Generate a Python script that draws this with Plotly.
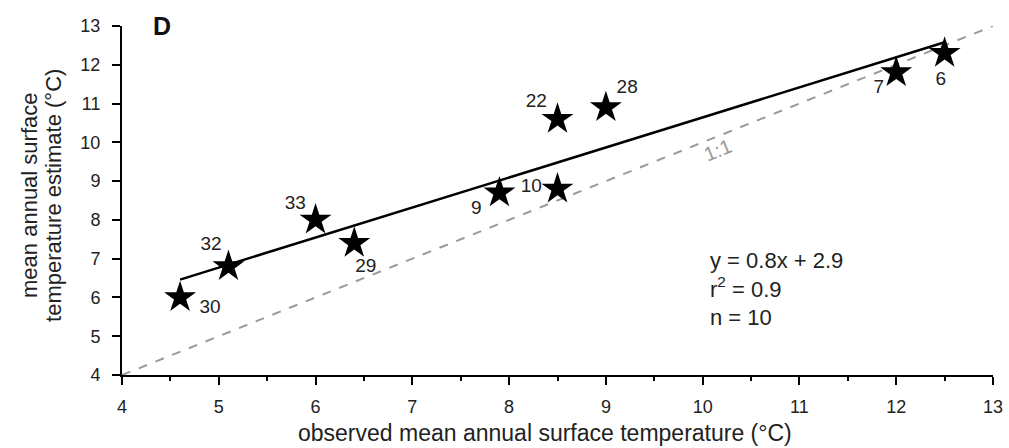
import plotly.graph_objects as go

# data
site_ids = ["30", "32", "33", "29", "9", "10", "22", "28", "7", "6"]
observed = [4.6, 5.1, 6.0, 6.4, 7.9, 8.5, 8.5, 9.0, 12.0, 12.5]
estimate = [6.0, 6.8, 8.0, 7.4, 8.7, 8.8, 10.6, 10.9, 11.8, 12.3]
# label anchor positions (data units)
label_x = [4.91, 4.92, 5.79, 6.52, 7.66, 8.23, 8.28, 9.22, 11.82, 12.46]
label_y = [5.73, 7.35, 8.41, 6.78, 8.28, 8.85, 11.04, 11.40, 11.40, 11.60]

fit_x = [4.6, 12.5]
fit_y = [6.46, 12.58]
one_to_one = [4, 13]

stats_text = "y = 0.8x + 2.9<br>r<sup>2</sup> = 0.9<br>n = 10"

FONT = "Liberation Sans, Arial, sans-serif"
TXT = "#222"

fig = go.Figure()
fig.add_trace(go.Scatter(x=one_to_one, y=one_to_one, mode="lines",
                         line=dict(color="#9a9a9a", width=2, dash="dash"),
                         hoverinfo="skip"))
fig.add_trace(go.Scatter(x=fit_x, y=fit_y, mode="lines",
                         line=dict(color="black", width=2.5)))
fig.add_trace(go.Scatter(x=observed, y=estimate, mode="markers",
                         marker=dict(symbol="star", size=24, color="black",
                                     line=dict(width=0))))
fig.add_trace(go.Scatter(x=label_x, y=label_y, mode="text", text=site_ids,
                         textposition="middle center",
                         textfont=dict(family=FONT, size=19, color=TXT)))

fig.add_annotation(x=10.16, y=9.8, text="1:1", showarrow=False, textangle=-22,
                   font=dict(family=FONT, size=20, color="#9a9a9a"))
fig.add_annotation(x=4.41, y=13.0, text="<b>D</b>", showarrow=False,
                   font=dict(family=FONT, size=25, color="#111"))
fig.add_annotation(x=10.05, y=6.22, xanchor="left", yanchor="middle", align="left",
                   text=stats_text, showarrow=False,
                   font=dict(family=FONT, size=22, color=TXT))

# axis titles as annotations (two-line rotated y title with tight spacing)
fig.add_annotation(xref="paper", yref="paper", x=0, y=0.513, xshift=-92,
                   xanchor="center", yanchor="middle",
                   text="mean annual surface", textangle=-90, showarrow=False,
                   font=dict(family=FONT, size=22, color=TXT))
fig.add_annotation(xref="paper", yref="paper", x=0, y=0.513, xshift=-68,
                   xanchor="center", yanchor="middle",
                   text="temperature estimate (°C)", textangle=-90, showarrow=False,
                   font=dict(family=FONT, size=22, color=TXT))
fig.add_annotation(xref="paper", yref="paper", x=0.4857, y=0, yshift=-58,
                   xanchor="center", yanchor="middle",
                   text="observed mean annual surface temperature (°C)", showarrow=False,
                   font=dict(family=FONT, size=23, color=TXT))

axis_font = dict(family=FONT, size=18, color=TXT)
fig.update_layout(
    width=1009, height=448,
    margin=dict(l=122, r=16, t=26, b=73),
    paper_bgcolor="white", plot_bgcolor="white",
    showlegend=False,
    font=dict(family=FONT, color=TXT),
    xaxis=dict(range=[4, 13], dtick=1, showgrid=False, zeroline=False,
               showline=True, linecolor="black", linewidth=2,
               ticks="outside", ticklen=8, tickwidth=2, tickcolor="black",
               minor=dict(dtick=0.5, ticks="outside", ticklen=4, tickwidth=2, tickcolor="black"),
               tickfont=axis_font, ticklabelstandoff=6, automargin=False,
               ticklabeloverflow="allow"),
    yaxis=dict(range=[4, 13], dtick=1, showgrid=False, zeroline=False,
               showline=True, linecolor="black", linewidth=2,
               ticks="outside", ticklen=8, tickwidth=2, tickcolor="black",
               tickfont=axis_font, ticklabelstandoff=8, automargin=False,
               ticklabeloverflow="allow"),
)

fig.write_html("out.html", config={"displayModeBar": False},
               post_script="document.body.style.margin='0px';")
